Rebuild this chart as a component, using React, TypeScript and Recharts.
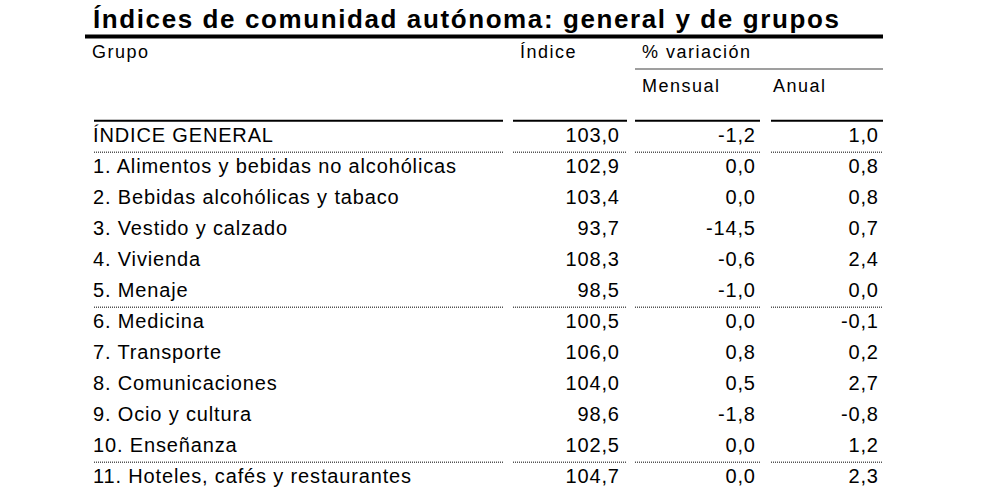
import React from 'react';
import { ComposedChart, Scatter, XAxis, YAxis, ReferenceLine, Customized } from 'recharts';

// ---------- data ----------
const TITLE = 'Índices de comunidad autónoma: general y de grupos';
const HEAD_GRUPO = 'Grupo';
const HEAD_INDICE = 'Índice';
const HEAD_VARIACION = '% variación';
const HEAD_MENSUAL = 'Mensual';
const HEAD_ANUAL = 'Anual';

const grupos = [
  'ÍNDICE GENERAL',
  '1. Alimentos y bebidas no alcohólicas',
  '2. Bebidas alcohólicas y tabaco',
  '3. Vestido y calzado',
  '4. Vivienda',
  '5. Menaje',
  '6. Medicina',
  '7. Transporte',
  '8. Comunicaciones',
  '9. Ocio y cultura',
  '10. Enseñanza',
  '11. Hoteles, cafés y restaurantes',
];
const indice = [103.0, 102.9, 103.4, 93.7, 108.3, 98.5, 100.5, 106.0, 104.0, 98.6, 102.5, 104.7];
const mensual = [-1.2, 0.0, 0.0, -14.5, -0.6, -1.0, 0.0, 0.8, 0.5, -1.8, 0.0, 0.0];
const anual = [1.0, 0.8, 0.8, 0.7, 2.4, 0.0, -0.1, 0.2, 2.7, -0.8, 1.2, 2.3];
const separatorsAfter = [0, 5, 10];

// ---------- layout ----------
const W = 990;
const H = 491;
const ROW0 = 135.2;
const ROW_STEP = 31;
const NROWS = grupos.length;
const FONT = '"Liberation Sans", Arial, Helvetica, sans-serif';
const ROW_FS = 20;
const ROW_LS = 0.85;
const HEAD_FS = 18;
const HEAD_LS = 1.5;

const fmt = (v: number) => v.toFixed(1).replace('.', ',');

const columns = [
  { key: 'grupo', x: 93, anchor: 'start', labels: grupos },
  { key: 'indice', x: 619, anchor: 'end', labels: indice.map(fmt) },
  { key: 'mensual', x: 755, anchor: 'end', labels: mensual.map(fmt) },
  { key: 'anual', x: 878, anchor: 'end', labels: anual.map(fmt) },
];

const segments: [number, number][] = [
  [94, 503],
  [513, 627],
  [635, 760],
  [771, 883],
];

const rowOf = (px: number) => (px - ROW0) / ROW_STEP;

const makeCell = (anchor: string) => (props: any) => {
  const { cx, cy, payload } = props;
  if (cx == null || cy == null) return <g />;
  return (
    <text
      x={cx + (anchor === 'end' ? ROW_LS : 0)}
      y={cy + 6.8}
      textAnchor={anchor as any}
      fontFamily={FONT}
      fontSize={ROW_FS}
      letterSpacing={ROW_LS}
      fill="#000"
    >
      {payload.label}
    </text>
  );
};

const Header = () => (
  <g fontFamily={FONT} fill="#000">
    <text x={93} y={28} fontSize={26} fontWeight="bold" letterSpacing={1.6}>
      {TITLE}
    </text>
    <text x={92} y={58} fontSize={HEAD_FS} letterSpacing={HEAD_LS}>{HEAD_GRUPO}</text>
    <text x={520} y={58} fontSize={HEAD_FS} letterSpacing={HEAD_LS}>{HEAD_INDICE}</text>
    <text x={642} y={58} fontSize={HEAD_FS} letterSpacing={HEAD_LS}>{HEAD_VARIACION}</text>
    <text x={642} y={92} fontSize={HEAD_FS} letterSpacing={HEAD_LS}>{HEAD_MENSUAL}</text>
    <text x={773} y={92} fontSize={HEAD_FS} letterSpacing={HEAD_LS}>{HEAD_ANUAL}</text>
  </g>
);

export default function App() {
  return (
    <div style={{ position: 'absolute', left: 0, top: 0, width: W, height: H, overflow: 'hidden', background: '#fff' }}>
      <ComposedChart
        width={W}
        height={H}
        margin={{ top: ROW0, right: 0, bottom: H - (ROW0 + ROW_STEP * (NROWS - 1)), left: 0 }}
      >
        <XAxis type="number" dataKey="x" domain={[0, W]} hide />
        <YAxis type="number" dataKey="row" domain={[0, NROWS - 1]} reversed hide />
        <Customized component={Header} />
        {/* title rule */}
        <ReferenceLine
          segment={[{ x: 85, y: rowOf(36.5) }, { x: 883, y: rowOf(36.5) }]}
          stroke="#000"
          strokeWidth={4}
          ifOverflow="visible"
        />
        {/* % variación rule */}
        <ReferenceLine
          segment={[{ x: 635, y: rowOf(69) }, { x: 883, y: rowOf(69) }]}
          stroke="#7f7f7f"
          strokeWidth={1.5}
          ifOverflow="visible"
        />
        {segments.map(([a, b], i) => (
          <ReferenceLine
            key={'top' + i}
            segment={[{ x: a, y: -0.47 }, { x: b, y: -0.47 }]}
            stroke="#000"
            strokeWidth={2}
            ifOverflow="visible"
          />
        ))}
        {separatorsAfter.flatMap((r) =>
          segments.map(([a, b], i) => (
            <ReferenceLine
              key={'sep' + r + '-' + i}
              segment={[{ x: a, y: r + 0.55 }, { x: b, y: r + 0.55 }]}
              stroke="#555"
              strokeWidth={1.3}
              strokeDasharray="1 1"
              ifOverflow="visible"
            />
          ))
        )}
        {columns.map((c) => (
          <Scatter
            key={c.key}
            name={c.key}
            data={c.labels.map((label, i) => ({ x: c.x, row: i, label }))}
            shape={makeCell(c.anchor)}
            isAnimationActive={false}
          />
        ))}
      </ComposedChart>
    </div>
  );
}
